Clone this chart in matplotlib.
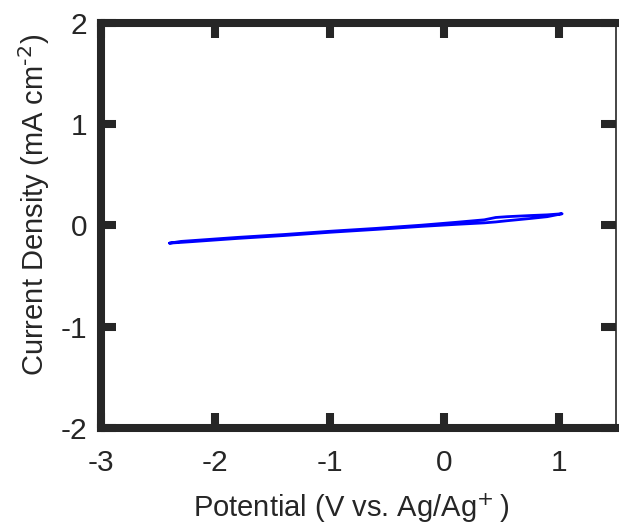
import numpy as np
import matplotlib.pyplot as plt

plt.rcParams['font.family'] = ['Liberation Sans', 'DejaVu Sans']

# forward scan (upper branch) and reverse scan (lower branch)
v_fwd = [-2.40, -2.30, -2.20, -1.80, -1.40, -1.00, -0.60, -0.20, 0.10, 0.35, 0.45, 0.55, 0.75, 0.90, 1.03]
i_fwd = [-0.175, -0.158, -0.150, -0.118, -0.090, -0.058, -0.030, 0.002, 0.030, 0.055, 0.078, 0.086, 0.097, 0.104, 0.115]
v_rev = [1.03, 0.90, 0.75, 0.55, 0.45, 0.35, 0.10, -0.20, -0.60, -1.00, -1.40, -1.80, -2.20, -2.40]
i_rev = [0.115, 0.086, 0.068, 0.046, 0.034, 0.025, 0.010, -0.010, -0.040, -0.068, -0.100, -0.128, -0.160, -0.175]

xticks = [-3, -2, -1, 0, 1]
yticks = [-2, -1, 0, 1, 2]

fig = plt.figure(figsize=(6.19, 5.26), dpi=100)
ax = fig.add_axes([0.163, 0.186, 0.832, 0.771])

ax.plot(v_fwd + v_rev, i_fwd + i_rev, color='#0000ff', linewidth=2.0,
        solid_joinstyle='round', solid_capstyle='round')

ax.set_xlim(-3, 1.5)
ax.set_ylim(-2, 2)
ax.set_xticks(xticks)
ax.set_yticks(yticks)
ax.set_xticklabels([str(t) for t in xticks])
ax.set_yticklabels([str(t) for t in yticks])

for s in ax.spines.values():
    s.set_linewidth(5.8)
    s.set_color('#262626')
ax.spines['right'].set_linewidth(1.2)
ax.tick_params(direction='in', length=10.5, width=5.8, color='#262626',
               labelsize=21.5, top=True, right=True, labelcolor='#262626')
ax.tick_params(axis='x', pad=15)
ax.tick_params(axis='y', pad=10)

ax.set_xlabel('Potential (V vs. Ag/Ag$^{+}\\,$)', fontsize=21, color='#262626')
ax.set_ylabel('Current Density (mA cm$^{\\text{-}2}$)', fontsize=21, color='#262626')
ax.xaxis.set_label_coords(0.486, -0.155)
ax.yaxis.set_label_coords(-0.094, 0.55)

fig.savefig('out.png', dpi=100)
